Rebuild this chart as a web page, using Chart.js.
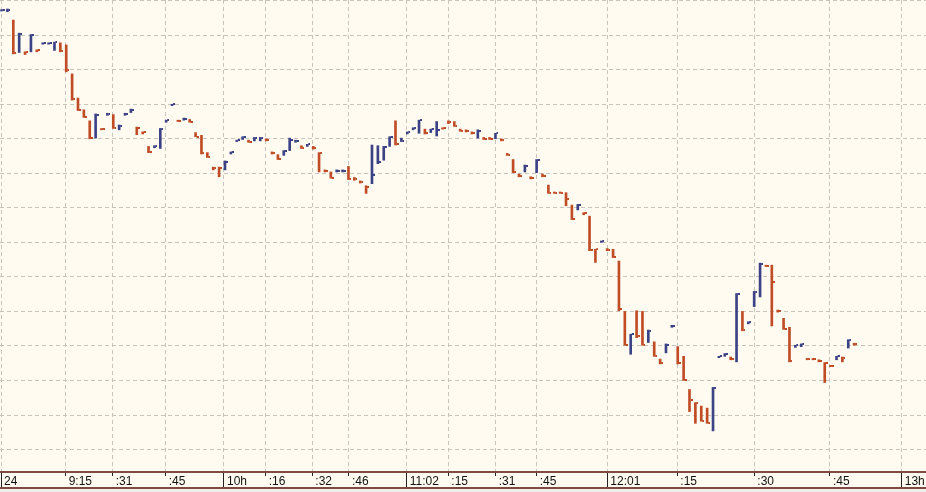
<!DOCTYPE html>
<html>
<head>
<meta charset="utf-8">
<script src="https://cdn.jsdelivr.net/npm/chart.js"></script>
<style>
  html, body { margin: 0; padding: 0; background: #fffbf0; }
  #wrap { width: 926px; height: 492px; }
</style>
</head>
<body>
<div id="wrap"><canvas id="chart"></canvas></div>
<script>
// one entry per bar, oldest first
const highs = [56.37,56.38,56.22,56.03,55.76,56.01,55.79,55.89,55.89,55.90,
  55.89,55.86,55.44,55.09,54.92,54.76,54.86,54.65,54.87,54.85,
  54.70,54.87,54.93,54.67,54.60,54.39,54.40,54.65,54.77,55.00,
  54.77,54.80,54.78,54.59,54.55,54.30,54.09,54.09,54.18,54.31,
  54.48,54.53,54.48,54.52,54.52,54.50,54.31,54.27,54.33,54.51,
  54.48,54.40,54.42,54.39,54.30,54.05,54.02,54.05,54.05,54.10,
  53.94,53.89,53.82,54.41,54.40,54.39,54.53,54.76,54.51,54.60,
  54.66,54.77,54.64,54.64,54.75,54.66,54.76,54.75,54.64,54.63,
  54.60,54.63,54.52,54.52,54.58,54.50,54.29,54.20,53.99,54.12,
  53.95,54.20,53.99,53.83,53.73,53.73,53.72,53.54,53.55,53.43,
  53.38,52.90,53.02,52.91,52.90,52.73,52.00,51.67,52.01,52.00,
  51.73,51.56,51.31,51.53,51.80,51.49,51.35,50.87,50.68,50.63,
  50.60,50.90,51.35,51.39,51.34,52.26,52.00,51.85,52.29,52.70,
  52.67,52.67,52.02,51.90,51.77,51.51,51.53,51.32,51.32,51.30,
  51.26,51.22,51.35,51.34,51.59,51.54];
const lows = [56.35,56.34,55.73,55.75,55.72,55.76,55.76,55.87,55.87,55.78,
  55.76,55.47,55.06,54.91,54.81,54.50,54.51,54.63,54.84,54.65,
  54.63,54.84,54.88,54.56,54.57,54.30,54.37,54.36,54.74,54.98,
  54.75,54.77,54.74,54.53,54.28,54.23,54.05,53.95,54.05,54.28,
  54.46,54.49,54.45,54.47,54.47,54.47,54.28,54.20,54.26,54.33,
  54.45,54.36,54.39,54.35,54.02,54.02,53.93,54.02,54.02,53.91,
  53.90,53.86,53.71,53.85,54.14,54.19,54.39,54.41,54.46,54.57,
  54.63,54.58,54.57,54.59,54.54,54.64,54.72,54.68,54.61,54.60,
  54.57,54.51,54.49,54.49,54.50,54.47,54.26,54.01,53.95,54.02,
  53.92,54.01,53.95,53.71,53.71,53.71,53.53,53.33,53.47,53.40,
  52.88,52.71,53.00,52.88,52.78,52.01,51.51,51.38,51.62,51.51,
  51.55,51.35,51.24,51.40,51.77,51.24,51.00,50.55,50.38,50.41,
  50.38,50.27,51.33,51.35,51.30,51.27,51.72,51.82,52.07,52.21,
  52.65,51.79,51.99,51.74,51.27,51.48,51.49,51.30,51.30,51.27,
  50.97,51.20,51.30,51.27,51.47,51.51];
const closes = [56.36,56.37,55.74,56.02,55.75,56.01,55.78,55.89,55.89,55.90,
  55.77,55.49,55.07,54.92,54.82,54.51,54.85,54.64,54.86,54.66,
  54.69,54.86,54.92,54.66,54.60,54.31,54.39,54.64,54.77,55.00,
  54.76,54.79,54.75,54.53,54.29,54.23,54.08,54.07,54.17,54.31,
  54.48,54.53,54.46,54.51,54.51,54.48,54.29,54.21,54.32,54.48,
  54.47,54.37,54.42,54.36,54.30,54.04,53.93,54.04,54.04,53.92,
  53.92,53.87,53.80,53.98,54.16,54.38,54.53,54.42,54.47,54.60,
  54.66,54.77,54.58,54.64,54.63,54.66,54.75,54.69,54.62,54.61,
  54.58,54.62,54.50,54.50,54.58,54.48,54.27,54.02,53.96,54.11,
  53.93,54.19,53.96,53.72,53.72,53.72,53.63,53.34,53.54,53.42,
  52.89,52.90,53.02,52.89,52.79,52.04,51.52,51.67,51.64,51.52,
  51.72,51.36,51.25,51.52,51.79,51.25,51.01,50.72,50.67,50.42,
  50.39,50.89,51.35,51.39,51.31,52.25,51.73,51.85,52.28,52.69,
  52.66,52.42,52.01,51.75,51.28,51.51,51.53,51.31,51.31,51.28,
  51.25,51.21,51.35,51.32,51.58,51.53];
// u = up bar (blue), d = down bar (red)
const dirs = ('uudududuuu ddddddudud uuuddduuuu dudddddduu uuduuddduu ' +
  'ududddduud ddduuuuduu uuduuddddd dudduddddu duddddddud ' +
  'dduddddudd udduuddddd duuududuuu ddddduuddd ddudud').replace(/ /g, '').split('');

const tickPos = [-0.09, 10.91, 18.90, 27.92, 37.83, 44.93, 52.85, 59.09, 68.90,
  75.98, 84.04, 91.01, 103.02, 114.93, 128.02, 140.89, 153.09];
const tickLabels = ['24', '9:15', ':31', ':45', '10h', ':16', ':32', ':46', '11:02',
  ':15', ':31', ':45', '12:01', ':15', ':30', ':45', '13h'];
const longTick = [1, 0, 0, 0, 1, 0, 0, 0, 1, 0, 0, 0, 1, 0, 0, 0, 1];

const RED = '#c04c26';
const BLUE = '#3c4286';
const GRID = '#c6c4bd';

function makeTick(color) {
  const c = document.createElement('canvas');
  c.width = 6; c.height = 2;
  const g = c.getContext('2d');
  g.fillStyle = color;
  g.fillRect(4, 0, 2, 2);
  return c;
}
const tickRed = makeTick(RED);
const tickBlue = makeTick(BLUE);

const yGrid = [];
for (let v = 50; v <= 56.5; v += 0.5) yGrid.push(v);

const bandPlugin = {
  id: 'band',
  beforeDraw(chart) {
    const c = chart.ctx;
    c.save();
    c.fillStyle = '#fffbf0';
    c.fillRect(0, 0, chart.width, chart.height);
    c.restore();
  },
  afterDraw(chart) {
    const c = chart.ctx, xs = chart.scales.x, b = chart.chartArea.bottom;
    c.save();
    c.fillStyle = '#efeeeb';
    c.fillRect(0, b + 17, chart.width, chart.height - b - 17);
    c.fillStyle = '#7d4c43';
    c.fillRect(0, b - 1, chart.width, 2);
    c.fillRect(0, b + 15, chart.width, 2);
    c.fillStyle = '#222';
    tickPos.forEach((v, i) => {
      const px = Math.round(xs.getPixelForValue(v) - 0.5);
      c.fillRect(px, b + 1, 1, longTick[i] ? 14 : 3);
    });
    c.restore();
  }
};

new Chart(document.getElementById('chart'), {
  data: {
    datasets: [{
      type: 'scatter',
      data: closes.map((c, i) => ({x: i, y: c})),
      pointStyle: ctx => dirs[ctx.dataIndex] === 'u' ? tickBlue : tickRed,
      pointRadius: 1,
      showLine: false
    }, {
      type: 'bar',
      data: highs.map((h, i) => ({x: i, y: [lows[i], h]})),
      backgroundColor: dirs.map(d => d === 'u' ? BLUE : RED),
      barThickness: 2,
      borderWidth: 0,
      grouped: false
    }]
  },
  options: {
    responsive: true,
    maintainAspectRatio: false,
    animation: false,
    events: [],
    layout: { padding: 0, autoPadding: false },
    plugins: { legend: { display: false }, tooltip: { enabled: false } },
    scales: {
      x: {
        type: 'linear',
        offset: false,
        min: -0.262,
        max: 157.221,
        afterBuildTicks: s => { s.ticks = tickPos.map(v => ({value: v})); },
        afterFit: s => { s.height = 20; s.paddingLeft = 0; s.paddingRight = 0; },
        ticks: {
          autoSkip: false,
          maxRotation: 0,
          align: 'start',
          labelOffset: 3,
          padding: 2,
          color: '#111',
          font: { family: 'Arial, "Liberation Sans", sans-serif', size: 12 },
          callback: (v, i) => tickLabels[i]
        },
        grid: { color: GRID, drawTicks: false, offset: false },
        border: { display: false, dash: [4, 3] }
      },
      y: {
        type: 'linear',
        min: 49.675,
        max: 56.51,
        afterBuildTicks: s => { s.ticks = yGrid.map(v => ({value: v})); },
        afterFit: s => { s.width = 0; s.paddingTop = 0; s.paddingBottom = 0; },
        ticks: { display: false },
        grid: { color: GRID, drawTicks: false },
        border: { display: false, dash: [4, 3] }
      }
    }
  },
  plugins: [bandPlugin]
});
</script>
</body>
</html>
